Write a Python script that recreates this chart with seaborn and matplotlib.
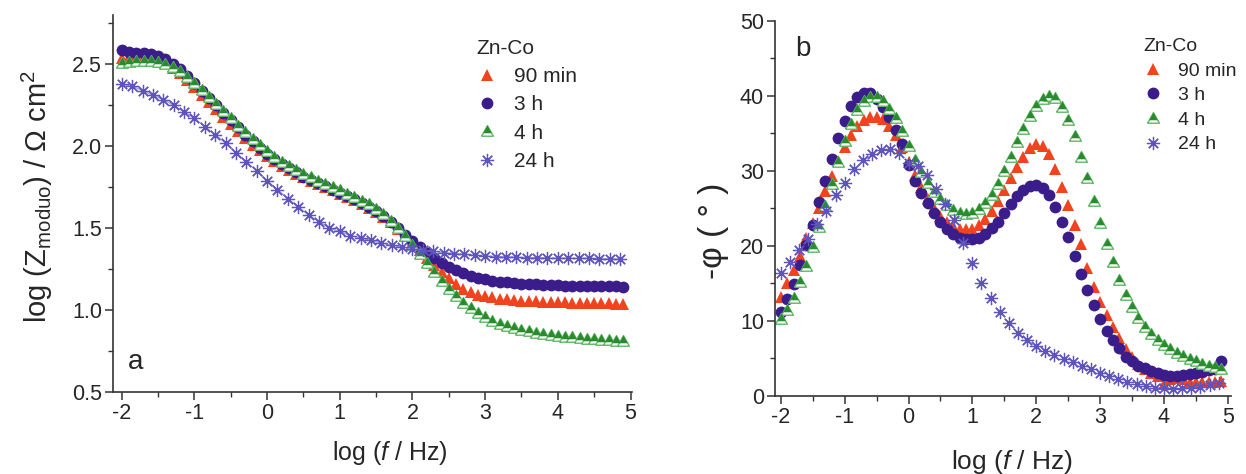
#Import Libraries
import numpy as np
import pandas as pd
import matplotlib
matplotlib.use("Agg")
import matplotlib.pyplot as plt
import seaborn as sns
from matplotlib.ticker import MultipleLocator
from matplotlib.legend_handler import HandlerTuple

#Frequency grids (log f / Hz)
log_f = np.round(np.linspace(-2.0, 4.9, 70), 2)
log_f_24h = np.linspace(-2.0, 5.0 - 1.0 / 7.0, 49)

labels = ["90 min", "3 h", "4 h", "24 h"]

#Panel a : log |Z|
z_90min = [2.540, 2.545, 2.545, 2.545, 2.540, 2.530, 2.510, 2.480, 2.445, 2.405,
           2.360, 2.315, 2.270, 2.225, 2.180, 2.135, 2.090, 2.050, 2.010, 1.975,
           1.940, 1.910, 1.880, 1.855, 1.830, 1.810, 1.790, 1.770, 1.750, 1.730,
           1.710, 1.690, 1.670, 1.650, 1.625, 1.600, 1.570, 1.535, 1.495, 1.455,
           1.410, 1.365, 1.320, 1.275, 1.235, 1.195, 1.160, 1.130, 1.110, 1.095,
           1.085, 1.077, 1.070, 1.065, 1.061, 1.058, 1.055, 1.053, 1.051, 1.049,
           1.048, 1.047, 1.046, 1.045, 1.044, 1.043, 1.042, 1.041, 1.040, 1.040]
z_3h = [2.585, 2.575, 2.570, 2.570, 2.565, 2.550, 2.530, 2.500, 2.470, 2.430,
        2.385, 2.340, 2.295, 2.250, 2.205, 2.160, 2.115, 2.070, 2.030, 1.990,
        1.955, 1.920, 1.890, 1.865, 1.840, 1.815, 1.795, 1.775, 1.755, 1.735,
        1.715, 1.695, 1.675, 1.655, 1.630, 1.605, 1.575, 1.540, 1.500, 1.460,
        1.420, 1.385, 1.350, 1.320, 1.290, 1.265, 1.245, 1.225, 1.210, 1.198,
        1.188, 1.180, 1.174, 1.169, 1.165, 1.162, 1.159, 1.157, 1.155, 1.153,
        1.151, 1.150, 1.149, 1.148, 1.147, 1.146, 1.145, 1.145, 1.144, 1.143]
z_4h = [2.510, 2.515, 2.520, 2.520, 2.520, 2.515, 2.505, 2.485, 2.460, 2.425,
        2.385, 2.345, 2.300, 2.260, 2.215, 2.170, 2.125, 2.085, 2.045, 2.005,
        1.970, 1.935, 1.905, 1.880, 1.855, 1.830, 1.810, 1.790, 1.770, 1.750,
        1.730, 1.710, 1.690, 1.668, 1.645, 1.618, 1.585, 1.545, 1.500, 1.450,
        1.400, 1.345, 1.290, 1.235, 1.180, 1.130, 1.085, 1.045, 1.010, 0.980,
        0.955, 0.935, 0.917, 0.902, 0.890, 0.879, 0.870, 0.862, 0.855, 0.849,
        0.843, 0.838, 0.833, 0.829, 0.825, 0.821, 0.818, 0.815, 0.812, 0.810]
z_24h = [2.380, 2.367, 2.340, 2.310, 2.285, 2.250, 2.210,
         2.170, 2.120, 2.070, 2.020, 1.960, 1.905, 1.850,
         1.790, 1.735, 1.680, 1.630, 1.580, 1.540, 1.500,
         1.480, 1.455, 1.440, 1.425, 1.410, 1.395, 1.385,
         1.375, 1.365, 1.360, 1.350, 1.345, 1.340, 1.335,
         1.330, 1.327, 1.325, 1.322, 1.320, 1.320, 1.318,
         1.316, 1.316, 1.315, 1.315, 1.313, 1.313, 1.310]

#Panel b : -phase angle
phi_90min = [13.2, 15.0, 16.8, 18.7, 21.0, 23.0, 25.0, 27.3, 29.3, 31.3,
             33.2, 34.8, 36.0, 36.8, 37.2, 37.2, 36.9, 36.0, 34.8, 33.2,
             31.2, 29.5, 27.8, 26.3, 25.0, 24.0, 23.2, 22.6, 22.3, 22.2,
             22.3, 22.8, 23.6, 24.7, 26.0, 27.5, 29.0, 30.5, 31.8, 33.0,
             33.6, 33.3, 32.2, 30.3, 27.9, 25.4, 22.8, 20.2, 17.0, 14.5,
             12.5, 10.8, 9.2, 7.7, 6.3, 5.2, 4.3, 3.6, 3.0, 2.6,
             1.6, 2.3, 2.4, 2.3, 1.8, 1.8, 1.9, 1.9, 1.9, 2.0]
phi_3h = [11.2, 12.9, 14.9, 17.4, 20.1, 22.8, 25.8, 28.7, 31.6, 34.4,
          36.7, 38.6, 39.8, 40.4, 40.4, 39.6, 38.5, 37.2, 35.5, 33.6,
          30.8, 28.7, 27.1, 25.7, 24.4, 23.2, 22.3, 21.6, 21.1, 20.9,
          20.9, 21.1, 21.6, 22.4, 23.2, 24.4, 25.6, 26.6, 27.5, 28.0,
          28.1, 27.7, 26.8, 25.2, 23.2, 21.2, 18.7, 16.3, 14.1, 12.1,
          10.2, 8.7, 7.4, 6.4, 5.2, 4.6, 4.0, 3.7, 3.3, 3.0,
          2.8, 2.7, 2.7, 2.8, 2.9, 3.1, 3.2, 3.4, 3.6, 4.6]
phi_4h = [10.3, 11.5, 13.0, 15.2, 17.3, 19.8, 22.5, 25.3, 28.3, 31.2,
          34.0, 36.3, 38.1, 39.3, 39.8, 39.8, 39.3, 38.3, 37.0, 35.3,
          33.3, 31.5, 29.9, 28.4, 27.2, 26.2, 25.4, 24.8, 24.4, 24.3,
          24.4, 24.9, 25.7, 26.8, 28.2, 30.0, 31.8, 33.8, 35.6, 37.3,
          38.7, 39.6, 40.0, 39.7, 38.5, 36.8, 34.6, 31.9, 29.0, 26.0,
          23.0, 20.3, 17.8, 15.5, 13.5, 11.8, 10.4, 9.2, 8.2, 7.4,
          6.8, 6.2, 5.7, 5.3, 4.9, 4.6, 4.3, 4.0, 3.8, 3.6]
phi_24h = [16.4, 17.8, 19.4, 20.9, 22.9, 24.7, 26.8,
           28.4, 30.2, 31.5, 32.3, 32.8, 32.9, 32.4,
           31.0, 30.6, 29.4, 27.6, 25.6, 23.5, 20.4,
           17.7, 15.0, 13.0, 11.2, 9.7, 8.4, 7.5,
           6.6, 6.0, 5.4, 4.9, 4.5, 4.0, 3.6,
           3.1, 2.7, 2.3, 1.9, 1.6, 1.3, 1.1,
           1.0, 0.9, 1.0, 1.1, 1.2, 1.5, 1.7]

#Style
sns.set_style("ticks")
plt.rcParams['font.family'] = ['Liberation Sans', 'DejaVu Sans']
plt.rcParams['mathtext.fontset'] = 'custom'
plt.rcParams['mathtext.rm'] = 'Liberation Sans'
plt.rcParams['mathtext.it'] = 'Liberation Sans:italic'

red = '#f2431f'
purple = '#3a1d8a'
green = '#2a8a2e'
light_green = '#5fb865'
star = '#5f54bc'
star_line = '#a59ddc'

#open triangle with a filled triangle in its upper part (4 h marker)
tri_outer = [(-1, -0.8), (1, -0.8), (0, 1), (-1, -0.8)]
tri_inner = [(-0.72, -0.3), (0.72, -0.3), (0, 1), (-0.72, -0.3)]

layers = {
    "90 min": [dict(marker='^', color=red, markersize=8.5, markeredgewidth=0)],
    "3 h": [dict(marker='o', color=purple, markersize=8.5, markeredgewidth=0)],
    "4 h": [dict(marker=tri_outer, color=light_green, markersize=8.5,
                 markerfacecolor='white', markeredgecolor=light_green,
                 markeredgewidth=1.0),
            dict(marker=tri_inner, color=green, markersize=8.5,
                 markeredgewidth=0)],
    "24 h": [dict(marker=(8, 2, 0), color=star, markersize=9.5,
                  markeredgecolor=star, markeredgewidth=0.9)],
}

fig = plt.figure(figsize=(12.46, 4.74), dpi=100)
ax1 = fig.add_axes([0.0907, 0.173, 0.4165, 0.795])
ax2 = fig.add_axes([0.622, 0.165, 0.366, 0.791])


def draw(ax, series, line_24h):
    for lab in labels:
        x, y = series[lab]
        df = pd.DataFrame({'x': x, 'y': y})
        if lab == "24 h" and line_24h:
            sns.lineplot(data=df, x='x', y='y', ax=ax, estimator=None, sort=False,
                         color=star_line, linewidth=0.9)
        for kw in layers[lab]:
            sns.lineplot(data=df, x='x', y='y', ax=ax, estimator=None, sort=False,
                         linestyle='', **kw)
    handles = []
    for lab in labels:
        parts = tuple(plt.Line2D([], [], linestyle='', **kw) for kw in layers[lab])
        handles.append(parts)
    return handles


def add_legend(ax, handles, anchor, size, spacing):
    ax.legend(handles, labels, title="Zn-Co", loc='upper left',
              bbox_to_anchor=anchor, frameon=False, fontsize=size,
              title_fontsize=size, handletextpad=0.8, labelspacing=spacing,
              handlelength=1.0, borderaxespad=0, alignment='left',
              handler_map={tuple: HandlerTuple(ndivide=1)})


#Panel a
series_a = {"90 min": (log_f, z_90min), "3 h": (log_f, z_3h),
            "4 h": (log_f, z_4h), "24 h": (log_f_24h, z_24h)}
h1 = draw(ax1, series_a, True)
ax1.set_xlim(-2.12, 5.02)
ax1.set_ylim(0.5, 2.8)
ax1.yaxis.set_minor_locator(MultipleLocator(0.25))
ax1.set_yticks([0.5, 1.0, 1.5, 2.0, 2.5])
ax1.set_yticklabels(["0.5", "1.0", "1.5", "2.0", "2.5"])
ax1.set_xlabel(r"log ($\mathit{f}$ / Hz)", fontsize=18)
ax1.set_ylabel(r"log (Z$_{\mathregular{moduo}}$) / $\Omega$ cm$^{\mathregular{2}}$", fontsize=21)
ax1.yaxis.set_label_coords(-0.112, 0.52)
ax1.xaxis.set_label_coords(0.534, -0.125)
ax1.text(0.028, 0.06, "a", transform=ax1.transAxes, fontsize=20)
add_legend(ax1, h1, (0.685, 0.96), 15, 0.45)

#Panel b
series_b = {"90 min": (log_f, phi_90min), "3 h": (log_f, phi_3h),
            "4 h": (log_f, phi_4h), "24 h": (log_f_24h, phi_24h)}
h2 = draw(ax2, series_b, False)
ax2.set_xlim(-2.09, 5.05)
ax2.set_ylim(0, 50)
ax2.yaxis.set_major_locator(MultipleLocator(10))
ax2.yaxis.set_minor_locator(MultipleLocator(5))
ax2.set_xlabel(r"log ($\mathit{f}$ / Hz)", fontsize=19)
ax2.set_ylabel("-φ ( ° )", fontsize=24)
ax2.yaxis.set_label_coords(-0.10, 0.44)
ax2.xaxis.set_label_coords(0.52, -0.14)
ax2.text(0.045, 0.905, "b", transform=ax2.transAxes, fontsize=20)
add_legend(ax2, h2, (0.79, 0.975), 14, 0.36)

for ax in (ax1, ax2):
    sns.despine(ax=ax)
    for s in ('left', 'bottom'):
        ax.spines[s].set_linewidth(1.2)
        ax.spines[s].set_color('#333333')
    ax.xaxis.set_minor_locator(MultipleLocator(0.5))
    ax.tick_params(which='major', direction='out', length=6, width=1.1,
                   labelsize=15.5, color='#333333', pad=2)
    ax.tick_params(which='minor', direction='out', length=3.5, width=1.0,
                   color='#333333')
    ax.set_xticks([-2, -1, 0, 1, 2, 3, 4, 5])
    ax.set_xticklabels(["-2", "-1", "0", "1", "2", "3", "4", "5"])

fig.savefig("out.png", dpi=100)
print("Figure saved")
